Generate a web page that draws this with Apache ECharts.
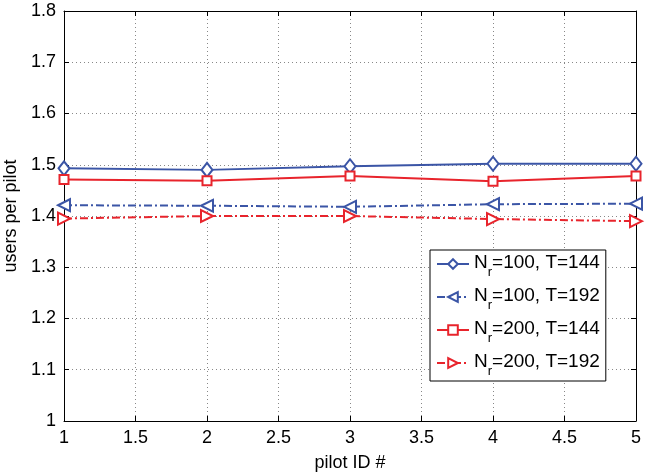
<!DOCTYPE html>
<html>
<head>
<meta charset="utf-8">
<script src="https://cdn.jsdelivr.net/npm/echarts@6/dist/echarts.min.js"></script>
<style>
  html, body { margin: 0; padding: 0; background: #fff; }
  #chart { width: 645px; height: 474px; }
</style>
</head>
<body>
<div id="chart"></div>
<script>
// Pilot IDs on the x axis
var pilotIds = [1, 2, 3, 4, 5];

// Average number of users sharing each pilot
var nr100T144 = [1.493, 1.490, 1.497, 1.502, 1.502];
var nr100T192 = [1.421, 1.420, 1.418, 1.423, 1.424];
var nr200T144 = [1.471, 1.469, 1.478, 1.468, 1.478];
var nr200T192 = [1.395, 1.400, 1.400, 1.394, 1.390];

// Legend parameters (N_r and T for each curve)
var nrValues = [100, 100, 200, 200];
var tValues = [144, 192, 144, 192];

// Axis tick values
var xTicks = [1, 1.5, 2, 2.5, 3, 3.5, 4, 4.5, 5];
var yTicks = [1, 1.1, 1.2, 1.3, 1.4, 1.5, 1.6, 1.7, 1.8];

var BLUE = '#3b55a6';
var RED = '#e8242c';
var FONT = '"Liberation Sans", Arial, sans-serif';
var FS = 18;

var seriesNames = ['nr100T144', 'nr100T192', 'nr200T144', 'nr200T192'];
var legendText = {};
seriesNames.forEach(function (n, i) {
  legendText[n] = '{n|N}{s|r}{n|=' + nrValues[i] + ', T=' + tValues[i] + '}';
});

function pairs(values) {
  return pilotIds.map(function (x, i) { return [x, values[i]]; });
}

var xStep = Math.round((xTicks[1] - xTicks[0]) * 1000) / 1000;
var yStep = Math.round((yTicks[1] - yTicks[0]) * 1000) / 1000;

function axisBase(extra) {
  var base = {
    type: 'value',
    axisLine: { show: true, onZero: false, lineStyle: { color: '#000', width: 1 } },
    axisTick: { show: true, inside: true, length: 5, lineStyle: { color: '#000' } },
    axisLabel: { color: '#000', fontSize: FS, fontFamily: FONT },
    splitLine: { show: false }
  };
  return Object.assign(base, extra);
}

var dashDot = [8, 3, 2, 3];
var gridLine = { show: true, lineStyle: { color: '#888', type: [1, 3], width: 1 } };

var option = {
  animation: false,
  backgroundColor: '#fff',
  grid: { left: 64, right: 9, top: 11, bottom: 53, containLabel: false, outerBoundsMode: 'none' },
  xAxis: [
    axisBase({
      min: xTicks[0], max: xTicks[xTicks.length - 1], interval: xStep,
      name: 'pilot ID #', nameLocation: 'middle', nameGap: 33,
      nameTextStyle: { color: '#000', fontSize: FS, fontFamily: FONT },
      axisLabel: { color: '#000', fontSize: FS, fontFamily: FONT, margin: 8 },
      splitLine: gridLine
    }),
    axisBase({
      position: 'top',
      min: xTicks[0], max: xTicks[xTicks.length - 1], interval: xStep,
      axisLabel: { show: false }
    })
  ],
  yAxis: [
    axisBase({
      min: yTicks[0], max: yTicks[yTicks.length - 1], interval: yStep,
      name: 'users per pilot', nameLocation: 'middle', nameGap: 40,
      nameTextStyle: { color: '#000', fontSize: FS, fontFamily: FONT },
      axisLabel: { color: '#000', fontSize: FS, fontFamily: FONT, margin: 8 },
      splitLine: gridLine
    }),
    axisBase({
      position: 'right',
      min: yTicks[0], max: yTicks[yTicks.length - 1], interval: yStep,
      axisLabel: { show: false }
    })
  ],
  legend: {
    orient: 'vertical',
    left: 430, top: 250,
    backgroundColor: '#fff',
    borderColor: '#000', borderWidth: 1, borderRadius: 0,
    padding: [3, 6, 3, 6],
    itemGap: 7,
    itemWidth: 32, itemHeight: 12,
    formatter: function (name) { return legendText[name]; },
    textStyle: {
      color: '#000', fontFamily: FONT,
      rich: {
        n: { fontSize: 19, fontFamily: FONT, color: '#000', lineHeight: 22, verticalAlign: 'top' },
        s: { fontSize: 13, fontFamily: FONT, color: '#000', lineHeight: 14, verticalAlign: 'top', padding: [13, 0, 0, 0] }
      }
    },
    data: seriesNames
  },
  series: [
    {
      name: 'nr100T144', type: 'line', data: pairs(nr100T144),
      symbol: 'emptyDiamond', symbolSize: [11, 14],
      lineStyle: { color: BLUE, width: 2 },
      itemStyle: { color: BLUE, borderWidth: 2 }
    },
    {
      name: 'nr100T192', type: 'line', data: pairs(nr100T192),
      symbol: 'emptyTriangle', symbolSize: [12, 12], symbolRotate: 90,
      lineStyle: { color: BLUE, width: 2, type: dashDot },
      itemStyle: { color: BLUE, borderWidth: 2 }
    },
    {
      name: 'nr200T144', type: 'line', data: pairs(nr200T144),
      symbol: 'emptyRect', symbolSize: 9,
      lineStyle: { color: RED, width: 2 },
      itemStyle: { color: RED, borderWidth: 2 }
    },
    {
      name: 'nr200T192', type: 'line', data: pairs(nr200T192),
      symbol: 'emptyTriangle', symbolSize: [12, 12], symbolRotate: -90,
      lineStyle: { color: RED, width: 2, type: dashDot },
      itemStyle: { color: RED, borderWidth: 2 }
    }
  ]
};

var chart = echarts.init(document.getElementById('chart'), null, { renderer: 'canvas' });
chart.setOption(option);
</script>
</body>
</html>
